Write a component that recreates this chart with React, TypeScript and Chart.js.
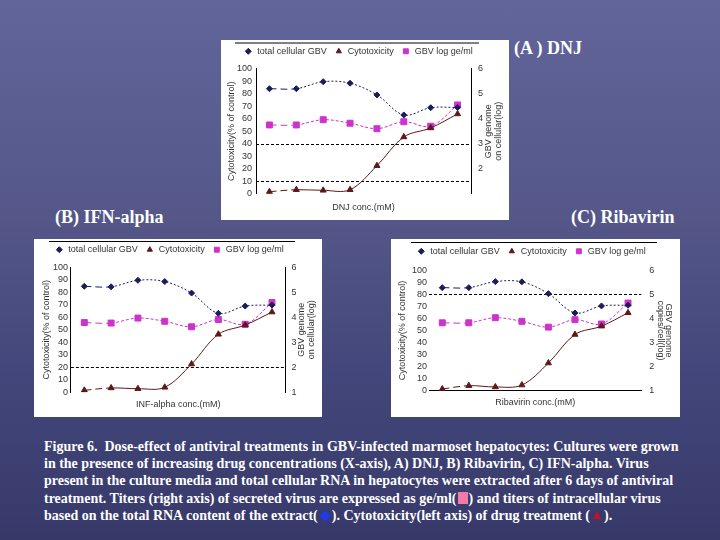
import React, { useEffect, useRef } from 'react';
import { Chart, registerables } from 'chart.js';
import { drawPoint } from 'chart.js/helpers';

Chart.register(...registerables);

// ---------- data ----------
const doseSteps = ['1', '2', '3', '4', '5', '6', '7', '8'];
const seriesNames = ['total cellular GBV', 'Cytotoxicity', 'GBV log ge/ml'];
const cytoTicks = [0, 10, 20, 30, 40, 50, 60, 70, 80, 90, 100];
const logTicks = [1, 2, 3, 4, 5, 6];

// (A) DNJ
const dnjCellular = [5.2, 5.2, 5.48, 5.42, 4.95, 4.15, 4.44, 4.45];
const dnjCytotox = [1.6, 3.2, 2.7, 3.2, 22.4, 45.4, 52.6, 63.8];
const dnjSecreted = [3.75, 3.75, 3.96, 3.82, 3.6, 3.88, 3.7, 4.55];
const dnjRefLines = [40, 10];

// (B) IFN-alpha
const ifnCellular = [5.24, 5.22, 5.48, 5.43, 4.97, 4.16, 4.45, 4.49];
const ifnCytotox = [1.6, 3.5, 2.9, 4.0, 22.6, 46.4, 53.8, 64.2];
const ifnSecreted = [3.79, 3.77, 3.97, 3.84, 3.62, 3.91, 3.72, 4.59];
const ifnRefLines = [20];

// (C) Ribavirin
const ribCellular = [5.28, 5.28, 5.53, 5.52, 5.03, 4.23, 4.52, 4.55];
const ribCytotox = [1.4, 4.2, 3.1, 4.7, 23.0, 46.7, 53.6, 64.7];
const ribSecreted = [3.82, 3.82, 4.03, 3.88, 3.64, 3.95, 3.77, 4.64];
const ribRefLines = [80];

// ---------- styling ----------
const TXT = '#333';
const FONT = { family: '"Liberation Sans", Arial, sans-serif', size: 9 };
const C_CELL = '#1c1c5c';
const C_CYTO = '#5e1818';
const C_SEC = '#cc33cc';

const decorPlugin = {
  id: 'decor',
  beforeDatasetsDraw(chart: any, _a: any, o: any) {
    const { ctx, chartArea } = chart;
    const y = chart.scales.y;
    ctx.save();
    ctx.strokeStyle = '#000';
    ctx.lineWidth = 1;
    ctx.setLineDash([3, 2]);
    (o.refLines || []).forEach((v: number) => {
      const py = Math.round(y.getPixelForValue(v)) + 0.5;
      ctx.beginPath();
      ctx.moveTo(chartArea.left, py);
      ctx.lineTo(chartArea.right, py);
      ctx.stroke();
    });
    ctx.restore();
  },
  afterDraw(chart: any, _a: any, o: any) {
    const { ctx, chartArea } = chart;
    ctx.save();
    // legend rule
    ctx.strokeStyle = '#000';
    ctx.lineWidth = 1;
    ctx.beginPath();
    ctx.moveTo(o.ruleX0, o.ruleY + 0.5);
    ctx.lineTo(o.ruleX1, o.ruleY + 0.5);
    ctx.stroke();
    // legend items
    ctx.font = `${FONT.size}px ${FONT.family}`;
    ctx.textBaseline = 'middle';
    ctx.textAlign = 'left';
    let x = o.legendX;
    chart.data.datasets.forEach((ds: any) => {
      ctx.fillStyle = ds.borderColor;
      ctx.strokeStyle = ds.borderColor;
      ctx.setLineDash([]);
      drawPoint(ctx, { pointStyle: ds.pointStyle, radius: ds.pointStyle === 'rect' ? 3.5 : 3, rotation: 0, borderWidth: 1 }, x, o.legendY);
      ctx.fillStyle = TXT;
      ctx.fillText(ds.label, x + 9, o.legendY);
      x += 9 + ctx.measureText(ds.label).width + 12;
    });
    // right axis title
    const cy = (chartArea.top + chartArea.bottom) / 2;
    o.rightTitle.forEach((line: string, i: number) => {
      ctx.save();
      ctx.translate(o.rightTitleX[i], cy);
      ctx.rotate((o.rightTitleDir * Math.PI) / 2);
      ctx.textAlign = 'center';
      ctx.textBaseline = 'middle';
      ctx.fillStyle = TXT;
      ctx.fillText(line, 0, 0);
      ctx.restore();
    });
    ctx.restore();
  },
};

type Cfg = {
  box: { left: number; top: number; w: number; h: number };
  cellular: number[];
  cytotox: number[];
  secreted: number[];
  refLines: number[];
  xTitle: string;
  leftTitle: string;
  rightTitle: string[];
  rightTitleX: number[];
  rightTitleDir: number;
  hideRightMin: boolean;
  L: any;
};

function MiniChart({ cfg }: { cfg: Cfg }) {
  const ref = useRef<HTMLCanvasElement>(null);
  useEffect(() => {
    const L = cfg.L;
    const dashFirst = (rest: number[]) => (c: any) => (c.p0DataIndex === 0 ? [7, 4] : rest);
    const chart = new Chart(ref.current as HTMLCanvasElement, {
      type: 'line',
      data: {
        labels: doseSteps,
        datasets: [
          {
            label: seriesNames[0],
            data: cfg.cellular,
            yAxisID: 'y1',
            borderColor: C_CELL,
            backgroundColor: C_CELL,
            borderWidth: 1,
            pointStyle: 'rectRot',
            pointRadius: 3,
            tension: 0.35,
            segment: { borderDash: dashFirst([2, 2]) },
          },
          {
            label: seriesNames[1],
            data: cfg.cytotox,
            yAxisID: 'y',
            borderColor: C_CYTO,
            backgroundColor: C_CYTO,
            borderWidth: 1,
            pointStyle: 'triangle',
            pointRadius: 3.5,
            tension: 0.35,
            segment: { borderDash: dashFirst([]) },
          },
          {
            label: seriesNames[2],
            data: cfg.secreted,
            yAxisID: 'y1',
            borderColor: C_SEC,
            backgroundColor: C_SEC,
            borderWidth: 1,
            pointStyle: 'rect',
            pointRadius: 4.2,
            tension: 0.35,
            segment: { borderDash: dashFirst([3, 2]) },
          },
        ],
      } as any,
      options: {
        responsive: false,
        animation: false,
        devicePixelRatio: 1,
        layout: { padding: { top: L.top, left: 0, right: 0, bottom: 0 } },
        plugins: {
          legend: { display: false },
          tooltip: { enabled: false },
          decor: {
            refLines: cfg.refLines,
            ruleX0: L.ruleX0,
            ruleX1: L.ruleX1,
            ruleY: L.ruleY,
            legendX: L.legendX,
            legendY: L.legendY,
            rightTitle: cfg.rightTitle,
            rightTitleX: cfg.rightTitleX,
            rightTitleDir: cfg.rightTitleDir,
          },
        } as any,
        scales: {
          x: {
            type: 'category',
            offset: true,
            grid: { display: false, drawTicks: false },
            ticks: { display: false },
            border: { display: L.xBorder, color: '#000', width: 1 },
            title: {
              display: true,
              text: cfg.xTitle,
              color: TXT,
              font: FONT,
              padding: { top: 0, bottom: L.xTitlePad },
            },
            afterFit: (s: any) => {
              s.height = L.xH;
            },
          },
          y: {
            position: 'left',
            min: 0,
            max: 100,
            afterBuildTicks: (s: any) => {
              s.ticks = cytoTicks.map((v) => ({ value: v }));
            },
            ticks: { color: TXT, font: FONT, padding: L.leftPad, autoSkip: false },
            grid: { display: false, drawTicks: false },
            border: { display: L.yBorder, color: '#000', width: 1 },
            title: {
              display: true,
              text: cfg.leftTitle,
              color: TXT,
              font: FONT,
              padding: { top: L.leftTitlePad, bottom: 0 },
            },
            afterFit: (s: any) => {
              s.width = L.leftW;
            },
          },
          y1: {
            position: 'right',
            min: 1,
            max: 6,
            afterBuildTicks: (s: any) => {
              s.ticks = logTicks.map((v) => ({ value: v }));
            },
            ticks: {
              color: TXT,
              font: FONT,
              padding: L.rightPad,
              autoSkip: false,
              callback: (v: any) => (cfg.hideRightMin && v === logTicks[0] ? '' : String(v)),
            },
            grid: { display: false, drawTicks: false },
            border: { display: L.yBorder, color: '#000', width: 1 },
            afterFit: (s: any) => {
              s.width = L.rightW;
            },
          },
        } as any,
      },
      plugins: [decorPlugin as any],
    });
    return () => chart.destroy();
  }, [cfg]);
  const b = cfg.box;
  return (
    <div style={{ position: 'absolute', left: b.left, top: b.top, width: b.w, height: b.h, background: '#fff' }}>
      <canvas ref={ref} width={b.w} height={b.h} style={{ display: 'block' }} />
    </div>
  );
}

const chartA: Cfg = {
  box: { left: 221, top: 40, w: 288, h: 180 },
  cellular: dnjCellular,
  cytotox: dnjCytotox,
  secreted: dnjSecreted,
  refLines: dnjRefLines,
  xTitle: 'DNJ conc.(mM)',
  leftTitle: 'Cytotoxicity(% of control)',
  rightTitle: ['GBV genome', 'on cellular(log)'],
  rightTitleX: [268, 278],
  rightTitleDir: -1,
  hideRightMin: true,
  L: { top: 28.7, leftW: 35, rightW: 38, xH: 26.3, xTitlePad: 6.6, leftTitlePad: 5.3, leftPad: 4, rightPad: 7, xBorder: false, yBorder: true, ruleX0: 14, ruleX1: 258, ruleY: 2.5, legendX: 27.3, legendY: 11.3 },
};

const chartB: Cfg = {
  box: { left: 34, top: 239, w: 288, h: 178 },
  cellular: ifnCellular,
  cytotox: ifnCytotox,
  secreted: ifnSecreted,
  refLines: ifnRefLines,
  xTitle: 'INF-alpha conc.(mM)',
  leftTitle: 'Cytotoxicity(% of control)',
  rightTitle: ['GBV genome', 'on cellular(log)'],
  rightTitleX: [268, 278],
  rightTitleDir: -1,
  hideRightMin: false,
  L: { top: 28.3, leftW: 36.9, rightW: 36.6, xH: 24.7, xTitlePad: 6.9, leftTitlePad: 7.6, leftPad: 3, rightPad: 6, xBorder: false, yBorder: true, ruleX0: 15, ruleX1: 261, ruleY: 2, legendX: 25.3, legendY: 10.7 },
};

const chartC: Cfg = {
  box: { left: 391, top: 239, w: 289, h: 178 },
  cellular: ribCellular,
  cytotox: ribCytotox,
  secreted: ribSecreted,
  refLines: ribRefLines,
  xTitle: 'Ribavirin conc.(mM)',
  leftTitle: 'Cytotoxicity(% of control)',
  rightTitle: ['GBV genome', 'copies/cell(log)'],
  rightTitleX: [277, 269],
  rightTitleDir: 1,
  hideRightMin: false,
  L: { top: 31.3, leftW: 38, rightW: 38.7, xH: 26.3, xTitlePad: 8.6, leftTitlePad: 6.6, leftPad: 2, rightPad: 8, xBorder: true, yBorder: false, ruleX0: 20, ruleX1: 266, ruleY: 3, legendX: 30.3, legendY: 12.3 },
};

const labelStyle: React.CSSProperties = {
  position: 'absolute',
  color: '#fff',
  fontFamily: '"Liberation Serif", "Times New Roman", serif',
  fontWeight: 'bold',
  fontSize: 18,
  whiteSpace: 'nowrap',
  lineHeight: '20px',
};

const capLine: React.CSSProperties = {
  whiteSpace: 'nowrap',
  height: 17.2,
  lineHeight: '17.2px',
};

const PinkBox = () => (
  <span style={{ display: 'inline-block', width: 10, height: 12, background: '#f07aa8', verticalAlign: -1, margin: '0 1px' }} />
);
const BlueDiamond = () => (
  <span style={{ display: 'inline-block', width: 8, height: 8, background: '#1f3ae6', transform: 'rotate(45deg)', verticalAlign: 0, margin: '0 3px' }} />
);
const RedTriangle = () => (
  <span style={{ display: 'inline-block', width: 0, height: 0, borderLeft: '4px solid transparent', borderRight: '4px solid transparent', borderBottom: '8px solid #c4102c', verticalAlign: 1, margin: '0 3px' }} />
);

export default function App() {
  return (
    <div
      style={{
        position: 'absolute',
        left: 0,
        top: 0,
        width: 720,
        height: 540,
        overflow: 'hidden',
        background: 'linear-gradient(180deg, #62659a 0%, #545788 40%, #43467a 70%, #363968 100%)',
      }}
    >
      <MiniChart cfg={chartA} />
      <MiniChart cfg={chartB} />
      <MiniChart cfg={chartC} />
      <div style={{ ...labelStyle, left: 514, top: 38 }}>(A ) DNJ</div>
      <div style={{ ...labelStyle, left: 55, top: 207 }}>(B) IFN-alpha</div>
      <div style={{ ...labelStyle, left: 571, top: 207 }}>(C) Ribavirin</div>
      <div
        style={{
          position: 'absolute',
          left: 44,
          top: 438,
          color: '#fff',
          fontFamily: '"Liberation Serif", "Times New Roman", serif',
          fontWeight: 'bold',
          fontSize: 14,
        }}
      >
        <div style={capLine}>Figure 6.&nbsp; Dose-effect of antiviral treatments in GBV-infected marmoset hepatocytes: Cultures were grown</div>
        <div style={capLine}>in the presence of increasing drug concentrations (X-axis), A) DNJ, B) Ribavirin, C) IFN-alpha. Virus</div>
        <div style={capLine}>present in the culture media and total cellular RNA in hepatocytes were extracted after 6 days of antiviral</div>
        <div style={capLine}>
          treatment. Titers (right axis) of secreted virus are expressed as ge/ml(<PinkBox />) and titers of intracellular virus
        </div>
        <div style={capLine}>
          based on the total RNA content of the extract(<BlueDiamond />). Cytotoxicity(left axis) of drug treatment (<RedTriangle />).
        </div>
      </div>
    </div>
  );
}
